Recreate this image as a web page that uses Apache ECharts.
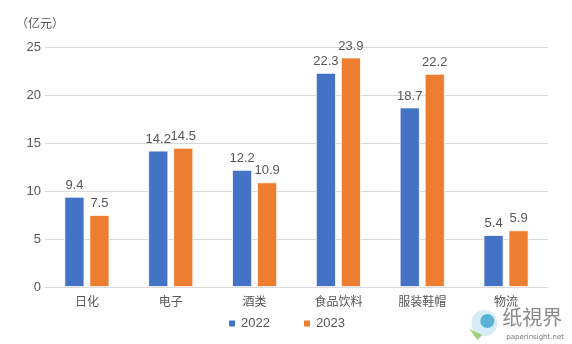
<!DOCTYPE html>
<html>
<head>
<meta charset="utf-8">
<script src="https://cdn.jsdelivr.net/npm/echarts@6/dist/echarts.min.js"></script>
<style>
html,body{margin:0;padding:0;background:#fff;}
#chart{width:572px;height:344px;}
</style>
</head>
<body>
<div id="chart"></div>
<script>
const categories = ['日化', '电子', '酒类', '食品饮料', '服装鞋帽', '物流'];
const values2022 = [9.4, 14.2, 12.2, 22.3, 18.7, 5.4];
const values2023 = [7.5, 14.5, 10.9, 23.9, 22.2, 5.9];
const seriesNames = ['2022', '2023'];
const unitLabel = '（亿元）';

const FONT = '"Liberation Sans", "Noto Sans CJK SC", sans-serif';
const CJK = '"Noto Sans CJK SC", sans-serif';
const TEXT = '#555555';

const chart = echarts.init(document.getElementById('chart'));

const labelStyle = {
  show: true,
  position: 'top',
  distance: 5,
  color: TEXT,
  fontSize: 13,
  fontFamily: FONT
};

chart.setOption({
  animation: false,
  textStyle: { fontFamily: FONT },
  grid: { left: 45, right: 24, top: 47, bottom: 57 },
  legend: {
    bottom: 9,
    left: 'center',
    itemWidth: 8,
    itemHeight: 8,
    itemGap: 32,
    icon: 'rect',
    textStyle: { color: TEXT, fontSize: 13, fontFamily: FONT },
    data: seriesNames
  },
  xAxis: {
    type: 'category',
    data: categories,
    axisTick: { show: false },
    axisLine: { lineStyle: { color: '#d9d9d9' } },
    axisLabel: { color: TEXT, fontSize: 12, fontFamily: CJK, margin: 8 }
  },
  yAxis: {
    type: 'value',
    min: 0,
    max: 25,
    interval: 5,
    name: unitLabel,
    nameLocation: 'end',
    nameGap: 18,
    nameTextStyle: { color: TEXT, fontSize: 12, fontFamily: CJK, align: 'center', padding: [0, 0, 0, -10] },
    axisLine: { show: false },
    axisTick: { show: false },
    axisLabel: { color: TEXT, fontSize: 13, fontFamily: FONT, margin: 4 },
    splitLine: { lineStyle: { color: '#d9d9d9' } }
  },
  series: [
    {
      name: seriesNames[0],
      type: 'bar',
      data: values2022,
      barWidth: 20,
      barGap: '25%',
      itemStyle: { color: '#4472C4', borderColor: '#fff', borderWidth: 0.8 },
      label: labelStyle
    },
    {
      name: seriesNames[1],
      type: 'bar',
      data: values2023,
      barWidth: 20,
      itemStyle: { color: '#ED7D31', borderColor: '#fff', borderWidth: 0.8 },
      label: labelStyle
    }
  ],
  graphic: [
    {
      type: 'group',
      right: 8,
      bottom: 3,
      children: [
        { type: 'circle', shape: { cx: 18, cy: 18, r: 13 }, style: { fill: '#d6edf5' } },
        { type: 'circle', shape: { cx: 21, cy: 16, r: 7 }, style: { fill: '#5ab3d6' } },
        { type: 'polygon', shape: { points: [[3, 24], [11, 35], [16, 30]] }, style: { fill: '#9fd27a' } },
        { type: 'text', x: 36, y: 2, style: { text: '纸視界', fontSize: 20, fill: '#8a8a8a', fontFamily: CJK } },
        { type: 'text', x: 40, y: 29, style: { text: 'paperinsight.net', fontSize: 7, fill: '#777', fontFamily: 'DejaVu Sans, sans-serif' } }
      ]
    }
  ]
});
</script>
</body>
</html>
